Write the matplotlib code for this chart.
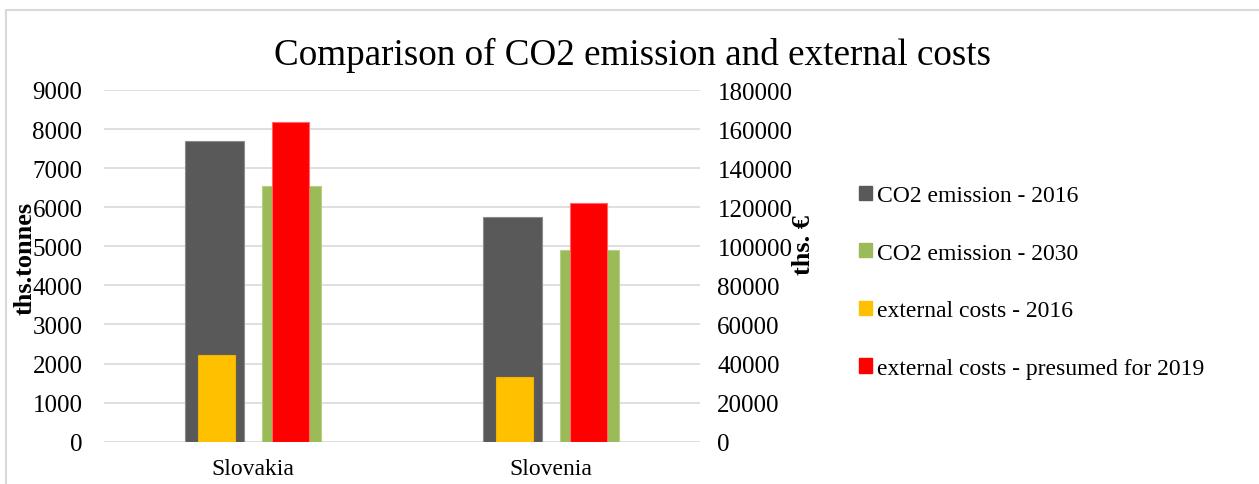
import matplotlib
matplotlib.use("Agg")
import matplotlib.pyplot as plt
import numpy as np
from matplotlib.patches import Rectangle, Patch

plt.rcParams['font.family'] = ['Liberation Serif', 'DejaVu Serif']

countries = ["Slovakia", "Slovenia"]
co2_2016 = [7690, 5750]          # ths. tonnes
co2_2030 = [6540, 4905]          # ths. tonnes
ext_costs_2016 = [44200, 33100]  # ths. EUR
ext_costs_2019 = [163600, 122300]  # ths. EUR

left_ticks = list(range(0, 9001, 1000))
right_ticks = list(range(0, 180001, 20000))

W, H = 1259, 485
fig = plt.figure(figsize=(W / 100, H / 100), dpi=100)

# chart frame (open to the right and bottom edges of the image)
fig.patches.append(Rectangle((6 / W, -0.05), 1.1, 1 - 11 / H + 0.05,
                             transform=fig.transFigure, fill=False,
                             edgecolor="#d9d9d9", linewidth=1.5, zorder=0))

ax_left, ax_right = 104, 700
ax_bottom, ax_top = 442.7, 91
ax = fig.add_axes([ax_left / W, 1 - ax_bottom / H,
                   (ax_right - ax_left) / W, (ax_bottom - ax_top) / H])
ax2 = ax.twinx()

x = np.arange(len(countries))
w_primary = 0.198
w_secondary = 0.124
off = 0.13

ax.bar(x - off, co2_2016, w_primary, color="#595959", edgecolor="#8c8c8c",
       linewidth=0.8, zorder=2, label="CO2 emission - 2016")
ax.bar(x + off, co2_2030, w_primary, color="#9bbb59", edgecolor="#b5cf86",
       linewidth=0.8, zorder=2, label="CO2 emission - 2030")
ax2.bar(x - off + 0.007, ext_costs_2016, w_secondary, color="#ffc000",
        edgecolor="#f2b400", linewidth=0.8, zorder=3, label="external costs - 2016")
ax2.bar(x + off - 0.004, ext_costs_2019, w_secondary, color="#ff0000",
        edgecolor="#ff6666", linewidth=0.8, zorder=3,
        label="external costs - presumed for 2019")

ax.set_xlim(-0.5, 1.5)
ax.set_ylim(0, 9000)
ax2.set_ylim(0, 180000)
ax.set_yticks(left_ticks)
ax2.set_yticks(right_ticks)
ax.set_xticks(x)
ax.set_xticklabels(countries, fontsize=17)

ax.grid(axis="y", color="#d9d9d9", linewidth=1.2, zorder=0)
ax.set_axisbelow(True)
for a in (ax, ax2):
    for s in a.spines.values():
        s.set_visible(False)
    a.tick_params(length=0)

ax.tick_params(axis="y", labelsize=18, pad=15.5)
ax.tick_params(axis="x", pad=11.5)
ax2.tick_params(axis="y", labelsize=18, pad=12.5)

ax.set_ylabel("ths.tonnes", fontsize=19, fontweight="bold")
ax.yaxis.set_label_coords((37 - ax_left) / (ax_right - ax_left),
                          (ax_bottom - 258) / (ax_bottom - ax_top))
ax2.set_ylabel("ths. €", fontsize=19, fontweight="bold")
ax2.yaxis.set_label_coords((792 - ax_left) / (ax_right - ax_left),
                           (ax_bottom - 245) / (ax_bottom - ax_top))
ax2.yaxis.label.set_rotation(90)

fig.text(633 / W, 1 - 55 / H, "Comparison of CO2 emission and external costs",
         ha="center", va="center", fontsize=26.7)

handles = [Patch(color=c) for c in ["#595959", "#9bbb59", "#ffc000", "#ff0000"]]
labels = ["CO2 emission - 2016", "CO2 emission - 2030", "external costs - 2016",
          "external costs - presumed for 2019"]
fig.legend(handles, labels, loc="center left", bbox_to_anchor=(838 / W, 1 - 283 / H),
           frameon=False, fontsize=17, handlelength=0.55, handleheight=0.55,
           handletextpad=0.2, labelspacing=1.55)

fig.savefig("out.png", dpi=100)
